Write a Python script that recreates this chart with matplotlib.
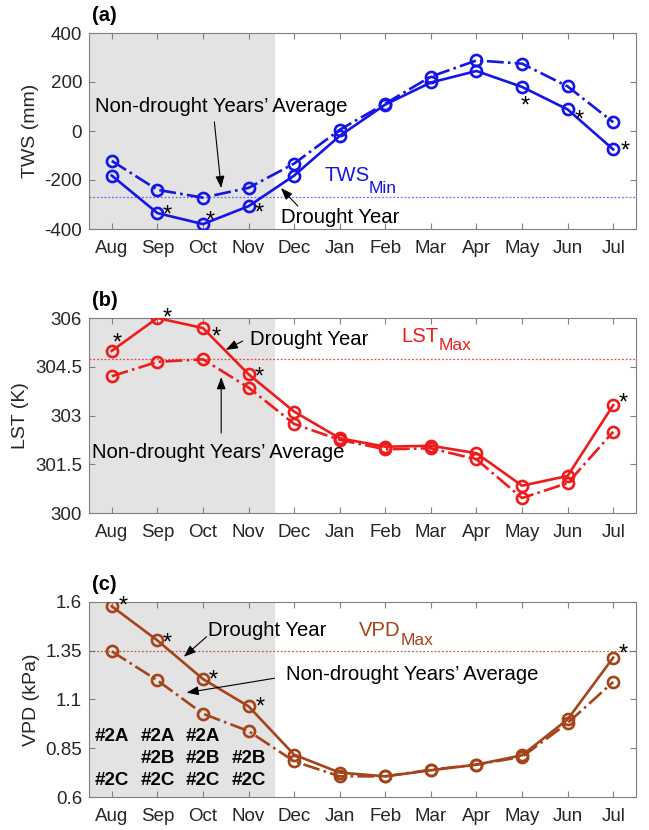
import matplotlib
matplotlib.use('Agg')
import matplotlib.pyplot as plt
import numpy as np

plt.rcParams['font.family'] = ['Liberation Sans', 'DejaVu Sans']

# data
months = ['Aug', 'Sep', 'Oct', 'Nov', 'Dec', 'Jan', 'Feb', 'Mar', 'Apr', 'May', 'Jun', 'Jul']
tws_drought = [-182, -335, -380, -307, -182, -20, 108, 198, 245, 180, 88, -75]
tws_normal = [-122, -240, -272, -232, -133, 5, 112, 222, 288, 275, 182, 36]
tws_min = -270
lst_drought = [304.99, 306.0, 305.69, 304.27, 303.12, 302.30, 302.04, 302.07, 301.84, 300.84, 301.14, 303.32]
lst_normal = [304.21, 304.65, 304.73, 303.86, 302.74, 302.25, 301.96, 301.99, 301.65, 300.46, 300.92, 302.50]
lst_max = 304.74
vpd_drought = [1.578, 1.403, 1.205, 1.065, 0.817, 0.725, 0.706, 0.737, 0.766, 0.814, 0.998, 1.315]
vpd_normal = [1.347, 1.198, 1.027, 0.938, 0.783, 0.706, 0.706, 0.740, 0.766, 0.806, 0.979, 1.190]
vpd_max = 1.347

tws_sig = [1, 2, 3, 9, 10, 11]
lst_sig = [0, 1, 2, 3, 11]
vpd_sig = [0, 1, 2, 3, 11]

codes = [['#2A', '', '#2C'],
         ['#2A', '#2B', '#2C'],
         ['#2A', '#2B', '#2C'],
         ['', '#2B', '#2C']]

x = np.arange(1, 13)
blue = '#1515e8'
red = '#ee1c1c'
brown = '#a4441a'
shade = '#e3e3e3'
PX = 1.389  # pixels per point at 100 dpi
fs_star = 17
fs_txt = 14.6

fig = plt.figure(figsize=(6.49, 8.30), dpi=100)
left, width = 89 / 649, 547 / 649
ax_a = fig.add_axes([left, 1 - 229 / 830, width, 196 / 830])
ax_b = fig.add_axes([left, 1 - 513 / 830, width, 195 / 830])
ax_c = fig.add_axes([left, 1 - 797 / 830, width, 195 / 830])


def style(ax, ylim, yticks, yticklabels, ylabel, tag):
    ax.axvspan(0.5, 4.57, color=shade, zorder=0, lw=0)
    ax.set_xlim(0.5, 12.5)
    ax.set_ylim(*ylim)
    ax.set_xticks(x)
    ax.set_xticklabels(months)
    ax.set_yticks(yticks)
    ax.set_yticklabels(yticklabels)
    ax.tick_params(direction='in', top=True, right=True, length=4.3, width=0.8,
                   color='#808080', labelcolor='#262626', labelsize=13.5)
    ax.tick_params(axis='x', pad=8)
    ax.tick_params(axis='y', pad=5)
    for s in ax.spines.values():
        s.set_color('#808080')
        s.set_linewidth(0.8)
    ax.set_ylabel(ylabel, fontsize=14, color='#262626', labelpad=4)
    ax.text(0.005, 1.09, tag, transform=ax.transAxes, fontsize=14.5,
            fontweight='bold', ha='left', va='center')


def series(ax, yd, yn, c):
    ax.plot(x, yn, '-.', color=c, lw=1.9, marker='o', ms=8, mew=1.9, mfc='none', zorder=3)
    ax.plot(x, yd, '-', color=c, lw=1.9, marker='o', ms=8, mew=1.9, mfc='none', zorder=4)


def stars(ax, yd, idx, offs):
    for i, (dx, dy) in zip(idx, offs):
        ax.annotate('*', xy=(x[i], yd[i]), xytext=(dx / PX, dy / PX - 0.58 * fs_star),
                    textcoords='offset points', ha='center', va='baseline',
                    fontsize=fs_star, color='k', zorder=5)


def arrow(ax, tail, head):
    ax.annotate('', xy=head, xytext=tail,
                arrowprops=dict(arrowstyle='-|>,head_length=0.4,head_width=0.15',
                                color='k', lw=0.8, mutation_scale=18,
                                shrinkA=0, shrinkB=0), zorder=6)


def threshold(ax, yval, c, tc, main, sub, pmain, psub):
    ax.axhline(yval, color=c, lw=0.9, ls=(0, (1.5, 1.5)), zorder=2, alpha=0.8)
    ax.text(pmain[0], pmain[1], main, color=tc, fontsize=fs_txt, ha='left', va='center')
    ax.text(psub[0], psub[1], sub, color=tc, fontsize=12.5, ha='left', va='center')


# (a) TWS
style(ax_a, (-400, 400), [-400, -200, 0, 200, 400], ['-400', '-200', '0', '200', '400'],
      'TWS (mm)', '(a)')
threshold(ax_a, tws_min, '#4a4af0', blue, 'TWS', 'Min', (5.67, -180), (6.64, -233))
series(ax_a, tws_drought, tws_normal, blue)
stars(ax_a, tws_drought, tws_sig, [(10, 5), (7, 10), (11, 0), (3, -12), (12, -3), (12, 6)])
ax_a.text(0.63, 98, 'Non-drought Years\u2019 Average', fontsize=fs_txt, ha='left', va='center')
arrow(ax_a, (3.25, 37), (3.40, -233))
ax_a.text(4.72, -355, 'Drought Year', fontsize=fs_txt, ha='left', va='center')
arrow(ax_a, (5.08, -306), (4.71, -233))

# (b) LST
style(ax_b, (300, 306), [300, 301.5, 303, 304.5, 306], ['300', '301.5', '303', '304.5', '306'],
      'LST (K)', '(b)')
threshold(ax_b, lst_max, red, red, 'LST', 'Max', (7.36, 305.42), (8.17, 305.14))
series(ax_b, lst_drought, lst_normal, red)
stars(ax_b, lst_drought, lst_sig, [(5, 15), (10, 7), (13, -2), (11, 4), (10, 9)])
ax_b.text(4.04, 305.35, 'Drought Year', fontsize=fs_txt, ha='left', va='center')
arrow(ax_b, (3.87, 305.29), (3.50, 305.02))
ax_b.text(0.56, 301.85, 'Non-drought Years\u2019 Average', fontsize=fs_txt, ha='left', va='center')
arrow(ax_b, (3.40, 302.46), (3.40, 304.18))

# (c) VPD
style(ax_c, (0.6, 1.6), [0.6, 0.85, 1.1, 1.35, 1.6], ['0.6', '0.85', '1.1', '1.35', '1.6'],
      'VPD (kPa)', '(c)')
threshold(ax_c, vpd_max, brown, brown, 'VPD', 'Max', (6.43, 1.456), (7.34, 1.405))
series(ax_c, vpd_drought, vpd_normal, brown)
stars(ax_c, vpd_drought, vpd_sig, [(11, 7), (10, 5), (10, 6), (12, 6), (10, 11)])
ax_c.text(3.10, 1.456, 'Drought Year', fontsize=fs_txt, ha='left', va='center')
arrow(ax_c, (3.08, 1.422), (2.58, 1.319))
ax_c.text(4.82, 1.226, 'Non-drought Years\u2019 Average', fontsize=fs_txt, ha='left', va='center')
arrow(ax_c, (4.57, 1.209), (2.64, 1.135))
for i, col in enumerate(codes):
    for row_y, label in zip([0.908, 0.80, 0.687], col):
        if label:
            ax_c.text(x[i], row_y, label, fontsize=13.5, fontweight='bold',
                      ha='center', va='center')

fig.savefig('out.png', dpi=100)
